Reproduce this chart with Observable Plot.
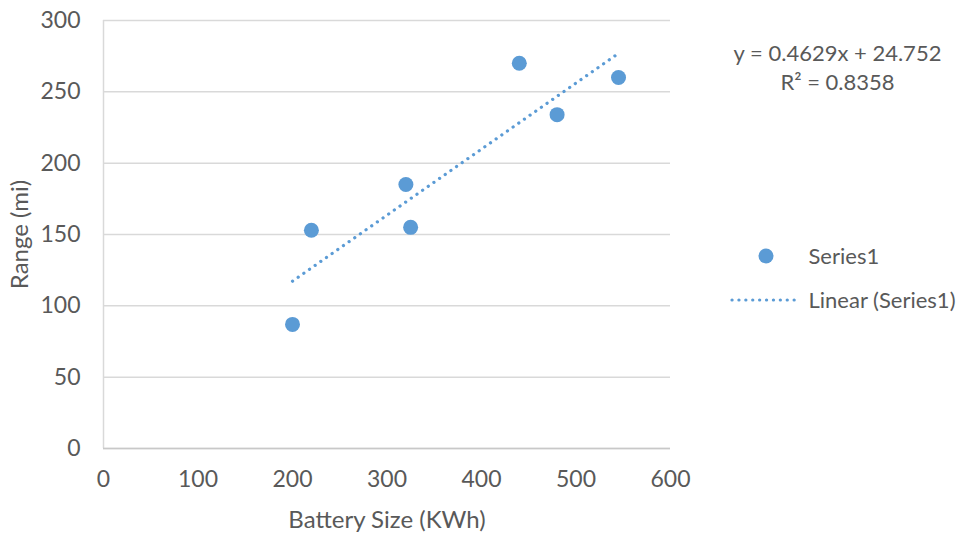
<!DOCTYPE html>
<html>
<head>
<meta charset="utf-8">
<script src="https://cdn.jsdelivr.net/npm/d3@7"></script>
<script src="https://cdn.jsdelivr.net/npm/@observablehq/plot@0.6"></script>
<style>
  html, body { margin: 0; padding: 0; background: #fff; }
  #chart { position: relative; width: 959px; height: 533px; }
</style>
</head>
<body>
<div id="chart"></div>
<script>
// Data
const batterySize = [200, 220, 320, 325, 440, 480, 545];
const range = [87, 153, 185, 155, 270, 234, 260];
const xTicks = [0, 100, 200, 300, 400, 500, 600];
const yTicks = [0, 50, 100, 150, 200, 250, 300];
const equationLines = ["y = 0.4629x + 24.752", "R² = 0.8358"];
const legendLabels = ["Series1", "Linear (Series1)"];
const xLabel = "Battery Size (KWh)";
const yLabel = "Range (mi)";

const data = batterySize.map((x, i) => ({x, y: range[i]}));

const blue = "#5B9BD5";
const textColor = "#595959";
const font = "Lato, 'Open Sans', sans-serif";

const plot = Plot.plot({
  width: 959,
  height: 533,
  marginLeft: 103,
  marginRight: 289,
  marginTop: 20,
  marginBottom: 85,
  style: {fontFamily: font, fontSize: "23px", color: textColor, background: "#fff"},
  x: {domain: [0, 600]},
  y: {domain: [0, 300]},
  marks: [
    Plot.gridY(yTicks, {stroke: "#d9d9d9", strokeOpacity: 1, strokeWidth: 1.5}),
    Plot.ruleX([0], {stroke: "#d9d9d9", strokeWidth: 1.5}),
    Plot.ruleY([0], {stroke: "#c8c8c8", strokeWidth: 1.5}),
    Plot.axisY(yTicks, {tickSize: 0, tickPadding: 23, label: null, fill: textColor, fontSize: 23}),
    Plot.axisX(xTicks, {tickSize: 0, tickPadding: 22, label: null, fill: textColor, fontSize: 23}),
    Plot.text([yLabel], {frameAnchor: "left", dx: -83, rotate: -90, textAnchor: "middle", lineAnchor: "middle", fill: textColor, fontSize: 24}),
    Plot.text([xLabel], {frameAnchor: "bottom", dy: 72, textAnchor: "middle", lineAnchor: "middle", fill: textColor, fontSize: 24}),
    Plot.linearRegressionY(data, {x: "x", y: "y", ci: 0, stroke: blue, strokeWidth: 3.2,
      strokeDasharray: "0.1 6.8", strokeLinecap: "round"}),
    Plot.dot(data, {x: "x", y: "y", r: 7.5, fill: blue, stroke: null}),
    Plot.text([equationLines[0]], {frameAnchor: "top-right", dx: 167, dy: 33, textAnchor: "middle", lineAnchor: "middle", fill: textColor, fontSize: 22}),
    Plot.text([equationLines[1]], {frameAnchor: "top-right", dx: 167, dy: 62, textAnchor: "middle", lineAnchor: "middle", fill: textColor, fontSize: 22}),
    Plot.text([legendLabels[0]], {frameAnchor: "top-right", dx: 138, dy: 236, textAnchor: "start", lineAnchor: "middle", fill: textColor, fontSize: 22}),
    Plot.text([legendLabels[1]], {frameAnchor: "top-right", dx: 138, dy: 280, textAnchor: "start", lineAnchor: "middle", fill: textColor, fontSize: 22})
  ]
});

// Legend symbols
const svg = d3.select(plot);
svg.append("circle").attr("cx", 766).attr("cy", 256).attr("r", 7.5).attr("fill", blue);
svg.append("line").attr("x1", 732).attr("x2", 800).attr("y1", 300).attr("y2", 300)
  .attr("stroke", blue).attr("stroke-width", 3.2)
  .attr("stroke-dasharray", "0.1 6.8").attr("stroke-linecap", "round");

document.getElementById("chart").appendChild(plot);
</script>
</body>
</html>
